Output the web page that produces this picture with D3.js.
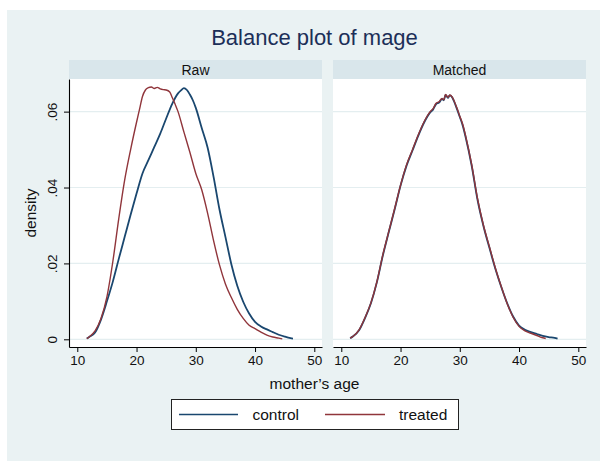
<!DOCTYPE html>
<html>
<head>
<meta charset="utf-8">
<script src="https://cdn.jsdelivr.net/npm/d3@7"></script>
<style>
  html, body { margin: 0; padding: 0; background: #ffffff; }
  svg { display: block; }
  text { font-family: "Liberation Sans", Arial, Helvetica, sans-serif; }
</style>
</head>
<body>
<svg id="chart" width="600" height="461"></svg>
<script>
// ---------------- data ----------------
const chartTitle = "Balance plot of mage";
const panelNames = ["Raw", "Matched"];
const seriesNames = ["control", "treated"];
const xTicks = [10, 20, 30, 40, 50];
const yTicks = [0, 0.02, 0.04, 0.06];
const yTickLabels = ["0", ".02", ".04", ".06"];
const xLabel = "mother\u2019s age";
const yLabel = "density";

// Raw panel: control (age, density)
const rawControl = [
  [11.6, .0002], [12, .0006], [13, .0018], [14, .0052], [15, .0100], [16, .0152],
  [17, .0212], [18, .0270], [19, .0328], [20, .0384], [21, .0437], [22, .0472],
  [23, .0507], [24, .0542], [25, .0582], [26, .0620], [27, .0648], [27.5, .0656],
  [28, .0662], [28.5, .0657], [29, .0645], [29.5, .0630], [30, .0610], [31, .0557],
  [32, .0505], [33, .0428], [34, .0342], [35, .0270], [36, .0198], [37, .0141],
  [38, .0099], [39, .0068], [40, .0046], [41, .0034], [42, .0026], [43, .0019],
  [44, .0012], [45, .0007], [46, .0003], [46.4, .0002]
];
// Raw panel: treated
const rawTreated = [
  [11.6, .0002], [12, .0006], [13, .0022], [14, .0055], [15, .0112], [16, .0205],
  [17, .0318], [18, .0420], [19, .0500], [20, .0572], [20.5, .0606], [21, .0640],
  [21.5, .0657], [22, .0663], [22.5, .0665], [23, .0661], [23.5, .0664], [24, .0660],
  [24.5, .0658], [25, .0657], [25.6, .0652], [26, .0638], [26.5, .0620], [27, .0600],
  [28, .0546], [29, .0493], [30, .0437], [31, .0394], [32, .0332], [33, .0260],
  [34, .0196], [35, .0146], [36, .0110], [37, .0079], [38, .0055], [39, .0037],
  [40, .0028], [41, .0019], [42, .0011], [43, .0006], [44, .0003], [44.6, .0001]
];
// Matched panel: control
const matchedControl = [
  [11.5, .0003], [12, .0008], [13, .0024], [14, .0056], [15, .0095], [16, .0150],
  [17, .0220], [18, .0282], [19, .0342], [20, .0405], [21, .0457], [22, .0497],
  [23, .0537], [24, .0572], [25, .0598], [25.5, .0606], [26, .0620], [26.5, .0624],
  [27, .0633], [27.3, .0630], [27.6, .0644], [28, .0636], [28.3, .0643], [28.7, .0638],
  [29, .0628], [29.5, .0608], [30, .0586], [30.5, .0563], [31, .0532], [32, .0458],
  [33, .0367], [34, .0298], [35, .0241], [36, .0186], [37, .0138], [38, .0095],
  [39, .0060], [40, .0036], [41, .0025], [42, .0019], [43, .0014], [44, .0009],
  [45, .0006], [46, .0004], [46.5, .0002]
];
// Matched panel: treated
const matchedTreated = [
  [11.5, .0003], [12, .0008], [13, .0025], [14, .0057], [15, .0096], [16, .0151],
  [17, .0222], [18, .0283], [19, .0344], [20, .0406], [21, .0459], [22, .0499],
  [23, .0539], [24, .0574], [25, .0600], [25.5, .0608], [26, .0622], [26.5, .0626],
  [27, .0635], [27.3, .0631], [27.6, .0645], [28, .0638], [28.3, .0644], [28.7, .0639],
  [29, .0630], [29.5, .0610], [30, .0588], [30.5, .0566], [31, .0535], [32, .0461],
  [33, .0370], [34, .0300], [35, .0244], [36, .0188], [37, .0139], [38, .0094],
  [39, .0058], [40, .0034], [41, .0022], [42, .0016], [43, .0010], [44, .0004],
  [44.5, .0002]
];
const panelSeries = [[rawControl, rawTreated], [matchedControl, matchedTreated]];
const seriesColors = ["#1a476f", "#90353b"];
const seriesWidths = [1.8, 1.4];

// ---------------- layout ----------------
const svg = d3.select("#chart");
const W = 600, H = 461;
const bg = "#eaf2f3";
svg.append("rect").attr("x", 7).attr("y", 10).attr("width", W - 7).attr("height", H - 10).attr("fill", bg);

const plotTop = 79, plotBottom = 347;
const panelX = [69, 333];
const panelW = 253;
const stripTop = 60;

const y = d3.scaleLinear().domain([-0.00203, 0.0686]).range([plotBottom, plotTop]);

// title
svg.append("text").attr("x", 314.5).attr("y", 45).attr("text-anchor", "middle")
  .attr("font-size", 22).attr("fill", "#1c2f58").text(chartTitle);

panelNames.forEach((name, i) => {
  const x0 = panelX[i];
  const x = d3.scaleLinear().domain([8.6, 51.3]).range([x0, x0 + panelW]);
  const g = svg.append("g");

  // strip
  g.append("rect").attr("x", x0).attr("y", stripTop).attr("width", panelW)
    .attr("height", plotTop - stripTop).attr("fill", "#d9e6eb");
  g.append("text").attr("x", x0 + panelW / 2).attr("y", (stripTop + plotTop) / 2 + 5)
    .attr("text-anchor", "middle").attr("font-size", 14).attr("fill", "#111").text(name);

  // plot region
  g.append("rect").attr("x", x0).attr("y", plotTop).attr("width", panelW)
    .attr("height", plotBottom - plotTop).attr("fill", "#ffffff");

  // gridlines
  g.selectAll(".grid").data(yTicks).enter().append("line")
    .attr("x1", x0).attr("x2", x0 + panelW)
    .attr("y1", d => y(d)).attr("y2", d => y(d))
    .attr("stroke", "#e4eef0").attr("stroke-width", 1.2);

  // curves
  const line = d3.line().x(d => x(d[0])).y(d => y(d[1])).curve(d3.curveMonotoneX);
  panelSeries[i].forEach((s, k) => {
    g.append("path").datum(s).attr("d", line).attr("fill", "none")
      .attr("stroke", seriesColors[k]).attr("stroke-width", seriesWidths[k])
      .attr("stroke-linejoin", "round");
  });

  // x axis
  const xa = g.append("g").attr("transform", `translate(0,${plotBottom})`)
    .call(d3.axisBottom(x).tickValues(xTicks).tickSize(5).tickPadding(3).tickSizeOuter(0));
  xa.select(".domain").attr("stroke", "#000").attr("stroke-width", 1.1);
  xa.selectAll(".tick line").attr("stroke", "#000");
  xa.selectAll("text").attr("font-size", 13.5).attr("fill", "#111")
    .attr("font-family", "'Liberation Sans', Arial, sans-serif");

  if (i === 0) {
    const ya = g.append("g").attr("transform", `translate(${x0},0)`)
      .call(d3.axisLeft(y).tickValues(yTicks).tickFormat((d, j) => yTickLabels[j])
        .tickSize(5).tickPadding(0).tickSizeOuter(0));
    ya.select(".domain").attr("stroke", "#000").attr("stroke-width", 1.1);
    ya.selectAll(".tick line").attr("stroke", "#000");
    ya.selectAll("text").attr("font-size", 13.5).attr("fill", "#111")
      .attr("font-family", "'Liberation Sans', Arial, sans-serif")
      .attr("text-anchor", "middle").attr("x", 0).attr("dy", 0)
      .attr("transform", "translate(-12,0) rotate(-90)");
  }
});

// axis titles
svg.append("text").attr("x", 314.5).attr("y", 389).attr("text-anchor", "middle")
  .attr("font-size", 15.5).attr("fill", "#111").text(xLabel);
svg.append("text").attr("transform", `translate(36,${(plotTop + plotBottom) / 2}) rotate(-90)`)
  .attr("text-anchor", "middle").attr("font-size", 15.5).attr("fill", "#111").text(yLabel);

// legend
const lg = svg.append("g");
lg.append("rect").attr("x", 171.5).attr("y", 399.5).attr("width", 287).attr("height", 30)
  .attr("fill", "#fff").attr("stroke", "#222").attr("stroke-width", 1);
const legendItems = [{ x1: 179, x2: 238, tx: 252.5 }, { x1: 325, x2: 385, tx: 399 }];
seriesNames.forEach((n, k) => {
  const it = legendItems[k];
  lg.append("line").attr("x1", it.x1).attr("x2", it.x2).attr("y1", 414.5).attr("y2", 414.5)
    .attr("stroke", seriesColors[k]).attr("stroke-width", 1.4);
  lg.append("text").attr("x", it.tx).attr("y", 420).attr("font-size", 15.5)
    .attr("fill", "#111").text(n);
});
</script>
</body>
</html>
